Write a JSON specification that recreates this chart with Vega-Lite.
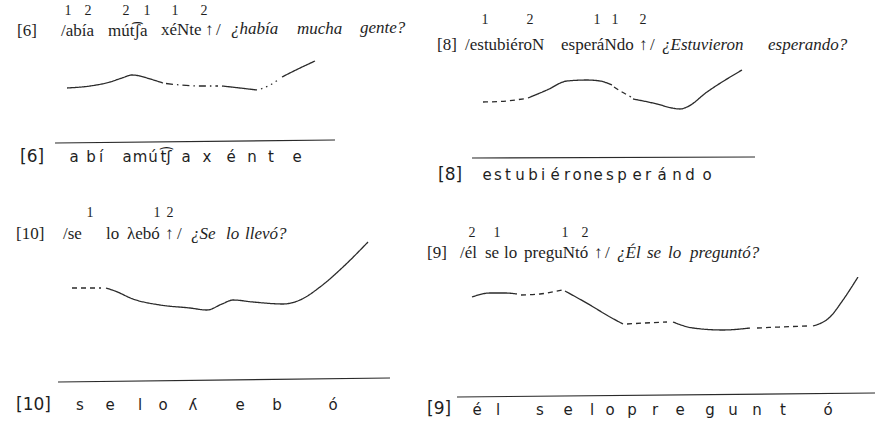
{
  "$schema": "https://vega.github.io/schema/vega-lite/v6.json",
  "width": 881,
  "height": 426,
  "autosize": {"type": "fit", "contains": "padding"},
  "padding": 0,
  "background": "#ffffff",
  "config": {"view": {"stroke": null}},
  "datasets": {
    "contour": [
      {"seg": "6a", "style": "solid", "x": 67, "y": 88},
      {"seg": "6a", "style": "solid", "x": 90, "y": 86},
      {"seg": "6a", "style": "solid", "x": 110, "y": 82},
      {"seg": "6a", "style": "solid", "x": 122, "y": 78},
      {"seg": "6a", "style": "solid", "x": 132, "y": 75},
      {"seg": "6a", "style": "solid", "x": 140, "y": 76},
      {"seg": "6a", "style": "solid", "x": 147, "y": 78},
      {"seg": "6a", "style": "solid", "x": 163, "y": 83},
      {"seg": "6b", "style": "dashdot", "x": 166, "y": 83.5},
      {"seg": "6b", "style": "dashdot", "x": 180, "y": 85},
      {"seg": "6b", "style": "dashdot", "x": 200, "y": 86},
      {"seg": "6b", "style": "dashdot", "x": 218, "y": 86},
      {"seg": "6c", "style": "solid", "x": 222, "y": 86},
      {"seg": "6c", "style": "solid", "x": 240, "y": 88},
      {"seg": "6c", "style": "solid", "x": 257, "y": 90},
      {"seg": "6d", "style": "dot", "x": 261, "y": 89},
      {"seg": "6d", "style": "dot", "x": 270, "y": 85},
      {"seg": "6d", "style": "dot", "x": 278, "y": 80},
      {"seg": "6e", "style": "solid", "x": 282, "y": 77},
      {"seg": "6e", "style": "solid", "x": 298, "y": 69},
      {"seg": "6e", "style": "solid", "x": 315, "y": 61},
      {"seg": "8a", "style": "dash", "x": 483, "y": 102},
      {"seg": "8a", "style": "dash", "x": 500, "y": 101.5},
      {"seg": "8a", "style": "dash", "x": 526, "y": 98.5},
      {"seg": "8b", "style": "solid", "x": 528, "y": 98},
      {"seg": "8b", "style": "solid", "x": 547, "y": 90},
      {"seg": "8b", "style": "solid", "x": 567, "y": 81},
      {"seg": "8b", "style": "solid", "x": 587, "y": 80},
      {"seg": "8b", "style": "solid", "x": 600, "y": 81},
      {"seg": "8b", "style": "solid", "x": 612, "y": 85},
      {"seg": "8c", "style": "dash", "x": 614, "y": 87},
      {"seg": "8c", "style": "dash", "x": 622, "y": 92},
      {"seg": "8c", "style": "dash", "x": 631, "y": 97},
      {"seg": "8d", "style": "solid", "x": 633, "y": 99},
      {"seg": "8d", "style": "solid", "x": 657, "y": 104},
      {"seg": "8d", "style": "solid", "x": 672, "y": 108},
      {"seg": "8d", "style": "solid", "x": 680, "y": 109},
      {"seg": "8d", "style": "solid", "x": 687, "y": 107},
      {"seg": "8d", "style": "solid", "x": 707, "y": 92},
      {"seg": "8d", "style": "solid", "x": 742, "y": 70},
      {"seg": "10a", "style": "dash", "x": 72, "y": 288},
      {"seg": "10a", "style": "dash", "x": 101, "y": 288},
      {"seg": "10b", "style": "solid", "x": 106, "y": 288},
      {"seg": "10b", "style": "solid", "x": 115, "y": 291},
      {"seg": "10b", "style": "solid", "x": 133, "y": 299},
      {"seg": "10b", "style": "solid", "x": 160, "y": 305},
      {"seg": "10b", "style": "solid", "x": 190, "y": 308},
      {"seg": "10b", "style": "solid", "x": 207, "y": 310},
      {"seg": "10b", "style": "solid", "x": 222, "y": 304},
      {"seg": "10b", "style": "solid", "x": 233, "y": 300},
      {"seg": "10b", "style": "solid", "x": 253, "y": 302},
      {"seg": "10b", "style": "solid", "x": 283, "y": 304},
      {"seg": "10b", "style": "solid", "x": 300, "y": 300},
      {"seg": "10b", "style": "solid", "x": 320, "y": 287},
      {"seg": "10b", "style": "solid", "x": 343, "y": 267},
      {"seg": "10b", "style": "solid", "x": 368, "y": 242},
      {"seg": "9a", "style": "solid", "x": 472, "y": 297},
      {"seg": "9a", "style": "solid", "x": 490, "y": 293},
      {"seg": "9a", "style": "solid", "x": 505, "y": 293},
      {"seg": "9a", "style": "solid", "x": 517, "y": 294},
      {"seg": "9b", "style": "dash", "x": 521, "y": 295},
      {"seg": "9b", "style": "dash", "x": 540, "y": 294},
      {"seg": "9b", "style": "dash", "x": 562, "y": 290},
      {"seg": "9c", "style": "solid", "x": 565, "y": 291},
      {"seg": "9c", "style": "solid", "x": 590, "y": 305},
      {"seg": "9c", "style": "solid", "x": 610, "y": 317},
      {"seg": "9c", "style": "solid", "x": 623, "y": 324},
      {"seg": "9d", "style": "dash", "x": 627, "y": 324},
      {"seg": "9d", "style": "dash", "x": 645, "y": 323},
      {"seg": "9d", "style": "dash", "x": 667, "y": 322},
      {"seg": "9e", "style": "solid", "x": 673, "y": 322},
      {"seg": "9e", "style": "solid", "x": 693, "y": 328},
      {"seg": "9e", "style": "solid", "x": 723, "y": 330},
      {"seg": "9e", "style": "solid", "x": 750, "y": 328},
      {"seg": "9f", "style": "dash", "x": 757, "y": 328},
      {"seg": "9f", "style": "dash", "x": 780, "y": 327},
      {"seg": "9f", "style": "dash", "x": 807, "y": 326},
      {"seg": "9g", "style": "solid", "x": 813, "y": 326},
      {"seg": "9g", "style": "solid", "x": 830, "y": 317},
      {"seg": "9g", "style": "solid", "x": 843, "y": 300},
      {"seg": "9g", "style": "solid", "x": 858, "y": 277}
    ],
    "bars": [
      {"ex": "6", "x": 55, "y": 143, "x2": 335, "y2": 140},
      {"ex": "8", "x": 472, "y": 158, "x2": 755, "y2": 157},
      {"ex": "10", "x": 58, "y": 382, "x2": 390, "y2": 378},
      {"ex": "9", "x": 457, "y": 397, "x2": 875, "y2": 393}
    ],
    "roman": [
      {"t": "[6]", "x": 17, "y": 31},
      {"t": "/abía", "x": 61, "y": 31},
      {"t": "mút͡ʃa", "x": 108, "y": 30.5},
      {"t": "xéNte", "x": 161, "y": 30},
      {"t": "↑", "x": 205, "y": 29.5},
      {"t": "/", "x": 216, "y": 29.5},
      {"t": "[8]", "x": 437, "y": 45},
      {"t": "/estubiéroN", "x": 465, "y": 45},
      {"t": "esperáNdo", "x": 561, "y": 45},
      {"t": "↑", "x": 639, "y": 45},
      {"t": "/", "x": 650, "y": 45},
      {"t": "[10]", "x": 16, "y": 234},
      {"t": "/se", "x": 63, "y": 234},
      {"t": "lo", "x": 106, "y": 234},
      {"t": "λebó", "x": 127, "y": 234},
      {"t": "↑", "x": 165, "y": 234},
      {"t": "/", "x": 177, "y": 234},
      {"t": "[9]", "x": 427, "y": 253},
      {"t": "/él", "x": 460, "y": 253},
      {"t": "se", "x": 485, "y": 253},
      {"t": "lo", "x": 504, "y": 253},
      {"t": "preguNtó", "x": 524, "y": 253},
      {"t": "↑", "x": 594, "y": 253},
      {"t": "/", "x": 605, "y": 253}
    ],
    "italic": [
      {"t": "¿había", "x": 231, "y": 29},
      {"t": "mucha", "x": 297, "y": 28.5},
      {"t": "gente?", "x": 360, "y": 28},
      {"t": "¿Estuvieron", "x": 662, "y": 45},
      {"t": "esperando?", "x": 768, "y": 45},
      {"t": "¿Se", "x": 191, "y": 234},
      {"t": "lo", "x": 226, "y": 234},
      {"t": "llevó?", "x": 245, "y": 234},
      {"t": "¿Él", "x": 617, "y": 253},
      {"t": "se", "x": 647, "y": 253},
      {"t": "lo", "x": 668, "y": 253},
      {"t": "preguntó?", "x": 690, "y": 253}
    ],
    "tones": [
      {"t": "1", "x": 68, "y": 11}, {"t": "2", "x": 88, "y": 11},
      {"t": "2", "x": 126, "y": 11}, {"t": "1", "x": 147, "y": 11},
      {"t": "1", "x": 175, "y": 11}, {"t": "2", "x": 204, "y": 11},
      {"t": "1", "x": 485, "y": 20}, {"t": "2", "x": 530, "y": 20},
      {"t": "1", "x": 597, "y": 20}, {"t": "1", "x": 615, "y": 20},
      {"t": "2", "x": 643, "y": 20},
      {"t": "1", "x": 90, "y": 213}, {"t": "1", "x": 157, "y": 213},
      {"t": "2", "x": 170, "y": 213},
      {"t": "2", "x": 472, "y": 233}, {"t": "1", "x": 497, "y": 233},
      {"t": "1", "x": 565, "y": 233}, {"t": "2", "x": 585, "y": 233}
    ],
    "labels": [
      {"t": "[6]", "x": 20, "y": 157},
      {"t": "[8]", "x": 438, "y": 175},
      {"t": "[10]", "x": 16, "y": 405},
      {"t": "[9]", "x": 427, "y": 409}
    ],
    "phones": [
      {"t": "a", "x": 74, "y": 157}, {"t": "b", "x": 91, "y": 157},
      {"t": "í", "x": 101, "y": 157}, {"t": "a", "x": 127, "y": 157},
      {"t": "m", "x": 140, "y": 157}, {"t": "ú", "x": 153, "y": 157},
      {"t": "t͡ʃ", "x": 166, "y": 157}, {"t": "a", "x": 186, "y": 157},
      {"t": "x", "x": 207, "y": 157}, {"t": "é", "x": 231, "y": 157},
      {"t": "n", "x": 252, "y": 157}, {"t": "t", "x": 271, "y": 157},
      {"t": "e", "x": 297, "y": 157},
      {"t": "e", "x": 487, "y": 175}, {"t": "s", "x": 498, "y": 175},
      {"t": "t", "x": 508, "y": 175}, {"t": "u", "x": 520, "y": 175},
      {"t": "b", "x": 533, "y": 175}, {"t": "i", "x": 543, "y": 175},
      {"t": "é", "x": 555, "y": 175}, {"t": "r", "x": 567, "y": 175},
      {"t": "o", "x": 577, "y": 175}, {"t": "n", "x": 588, "y": 175},
      {"t": "e", "x": 598, "y": 175}, {"t": "s", "x": 610, "y": 175},
      {"t": "p", "x": 622, "y": 175}, {"t": "e", "x": 637, "y": 175},
      {"t": "r", "x": 648, "y": 175}, {"t": "á", "x": 662, "y": 175},
      {"t": "n", "x": 677, "y": 175}, {"t": "d", "x": 690, "y": 175},
      {"t": "o", "x": 707, "y": 175},
      {"t": "s", "x": 80, "y": 405}, {"t": "e", "x": 110, "y": 405},
      {"t": "l", "x": 140, "y": 405}, {"t": "o", "x": 163, "y": 405},
      {"t": "ʎ", "x": 193, "y": 405}, {"t": "e", "x": 240, "y": 405},
      {"t": "b", "x": 277, "y": 405}, {"t": "ó", "x": 333, "y": 405},
      {"t": "é", "x": 477, "y": 410}, {"t": "l", "x": 498, "y": 410},
      {"t": "s", "x": 540, "y": 410}, {"t": "e", "x": 568, "y": 410},
      {"t": "l", "x": 592, "y": 410}, {"t": "o", "x": 610, "y": 410},
      {"t": "p", "x": 632, "y": 410}, {"t": "r", "x": 655, "y": 410},
      {"t": "e", "x": 680, "y": 410}, {"t": "g", "x": 710, "y": 410},
      {"t": "u", "x": 733, "y": 410}, {"t": "n", "x": 757, "y": 410},
      {"t": "t", "x": 783, "y": 410}, {"t": "ó", "x": 828, "y": 410}
    ]
  },
  "encoding": {
    "x": {"field": "x", "type": "quantitative", "scale": {"domain": [0, 881], "nice": false, "zero": false}, "axis": null},
    "y": {"field": "y", "type": "quantitative", "scale": {"domain": [0, 426], "nice": false, "zero": false, "reverse": true}, "axis": null}
  },
  "layer": [
    {
      "data": {"name": "contour"},
      "mark": {"type": "line", "interpolate": "monotone", "color": "#2a2a2a", "strokeWidth": 1.3},
      "encoding": {
        "detail": {"field": "seg", "type": "nominal"},
        "strokeDash": {"field": "style", "type": "nominal", "legend": null,
          "scale": {"domain": ["solid", "dash", "dashdot", "dot"], "range": [[1, 0], [5, 4], [7, 4, 1.5, 4], [1.5, 4]]}}
      }
    },
    {
      "data": {"name": "bars"},
      "mark": {"type": "rule", "color": "#2a2a2a", "strokeWidth": 1.2},
      "encoding": {
        "x2": {"field": "x2"},
        "y2": {"field": "y2"}
      }
    },
    {
      "data": {"name": "roman"},
      "mark": {"type": "text", "align": "left", "baseline": "middle", "font": "Liberation Serif", "fontSize": 17, "color": "#1e1e1e"},
      "encoding": {"text": {"field": "t"}}
    },
    {
      "data": {"name": "italic"},
      "mark": {"type": "text", "align": "left", "baseline": "middle", "font": "Liberation Serif", "fontStyle": "italic", "fontSize": 17, "color": "#1e1e1e"},
      "encoding": {"text": {"field": "t"}}
    },
    {
      "data": {"name": "tones"},
      "mark": {"type": "text", "align": "center", "baseline": "middle", "font": "Liberation Serif", "fontSize": 14, "color": "#1e1e1e"},
      "encoding": {"text": {"field": "t"}}
    },
    {
      "data": {"name": "labels"},
      "mark": {"type": "text", "align": "left", "baseline": "middle", "font": "DejaVu Sans", "fontSize": 17, "color": "#1e1e1e"},
      "encoding": {"text": {"field": "t"}}
    },
    {
      "data": {"name": "phones"},
      "mark": {"type": "text", "align": "center", "baseline": "middle", "font": "DejaVu Sans", "fontSize": 15, "color": "#1e1e1e"},
      "encoding": {"text": {"field": "t"}}
    }
  ]
}
